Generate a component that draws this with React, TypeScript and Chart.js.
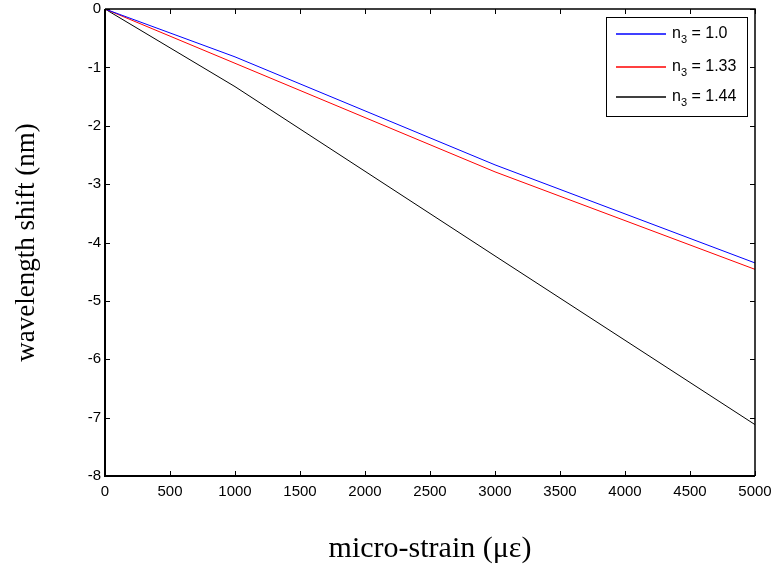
import React, { useEffect, useRef } from "react";
import { Chart, registerables } from "chart.js";

Chart.register(...registerables);

const strain = [0, 1000, 3000, 5000];
const shiftN100 = [0, -0.82, -2.67, -4.35];
const shiftN133 = [0, -0.93, -2.79, -4.46];
const shiftN144 = [0, -1.33, -4.23, -7.12];
const seriesLabels = ["1.0", "1.33", "1.44"];
const seriesColors = ["#0000ff", "#ff0000", "#000000"];
const xTicks = [0, 500, 1000, 1500, 2000, 2500, 3000, 3500, 4000, 4500, 5000];
const yTicks = [0, -1, -2, -3, -4, -5, -6, -7, -8];

const SANS = "'Liberation Sans', Arial, Helvetica, sans-serif";
const SERIF = "'Liberation Serif', 'Times New Roman', serif";

const framePlugin = {
  id: "matlabFrame",
  afterDraw(chart: any) {
    const ctx = chart.ctx as CanvasRenderingContext2D;
    const a = chart.chartArea;
    const xs = chart.scales.x;
    const ys = chart.scales.y;
    ctx.save();
    ctx.strokeStyle = "#000";
    ctx.lineWidth = 1;
    const tl = 5;
    ctx.beginPath();
    xTicks.forEach((v) => {
      const px = Math.round(xs.getPixelForValue(v)) + 0.5;
      ctx.moveTo(px, a.bottom);
      ctx.lineTo(px, a.bottom - tl);
      ctx.moveTo(px, a.top);
      ctx.lineTo(px, a.top + tl);
    });
    yTicks.forEach((v) => {
      const py = Math.round(ys.getPixelForValue(v)) + 0.5;
      ctx.moveTo(a.left, py);
      ctx.lineTo(a.left + tl, py);
      ctx.moveTo(a.right, py);
      ctx.lineTo(a.right - tl, py);
    });
    ctx.stroke();
    ctx.lineWidth = 1.5;
    ctx.beginPath();
    ctx.moveTo(a.left, a.top);
    ctx.lineTo(a.right, a.top);
    ctx.lineTo(a.right, a.bottom);
    ctx.stroke();
    ctx.lineWidth = 2;
    ctx.beginPath();
    ctx.moveTo(a.left, a.top);
    ctx.lineTo(a.left, a.bottom);
    ctx.lineTo(a.right, a.bottom);
    ctx.stroke();

    // legend
    const bw = 141;
    const bh = 99;
    const bx = Math.round(a.right - 8 - bw);
    const by = Math.round(a.top + 8);
    ctx.fillStyle = "#fff";
    ctx.fillRect(bx, by, bw, bh);
    ctx.strokeStyle = "#000";
    ctx.lineWidth = 1;
    ctx.strokeRect(bx + 0.5, by + 0.5, bw, bh);
    const rowY = [17, 50, 80];
    seriesLabels.forEach((lab, i) => {
      const y = by + rowY[i];
      ctx.strokeStyle = seriesColors[i];
      ctx.lineWidth = 1.5;
      ctx.beginPath();
      ctx.moveTo(bx + 10, y);
      ctx.lineTo(bx + 60, y);
      ctx.stroke();
      ctx.fillStyle = "#000";
      ctx.textBaseline = "alphabetic";
      ctx.textAlign = "left";
      ctx.font = `16px ${SANS}`;
      let tx = bx + 66;
      const base = y + 4;
      ctx.fillText("n", tx, base);
      tx += ctx.measureText("n").width;
      ctx.font = `11px ${SANS}`;
      ctx.fillText("3", tx, base + 5);
      tx += ctx.measureText("3").width;
      ctx.font = `16px ${SANS}`;
      ctx.fillText(" = " + lab, tx, base);
    });
    ctx.restore();
  },
};

export default function App() {
  const ref = useRef<HTMLCanvasElement | null>(null);
  useEffect(() => {
    document.body.style.margin = "0";
    const canvas = ref.current;
    if (!canvas) return;
    const mk = (vals: number[]) => strain.map((x, i) => ({ x, y: vals[i] }));
    const chart = new Chart(canvas, {
      type: "line",
      data: {
        datasets: [
          { label: "n3 = " + seriesLabels[0], data: mk(shiftN100), borderColor: seriesColors[0] },
          { label: "n3 = " + seriesLabels[1], data: mk(shiftN133), borderColor: seriesColors[1] },
          { label: "n3 = " + seriesLabels[2], data: mk(shiftN144), borderColor: seriesColors[2] },
        ].map((d) => ({ ...d, borderWidth: 1, pointRadius: 0, tension: 0, fill: false })),
      },
      options: {
        responsive: false,
        animation: false,
        layout: { padding: { top: 9, right: 17, left: 0, bottom: 0 } },
        plugins: { legend: { display: false }, tooltip: { enabled: false } },
        scales: {
          x: {
            type: "linear",
            min: 0,
            max: 5000,
            afterFit: (s: any) => {
              s.height = 95;
              s.paddingLeft = 0;
              s.paddingRight = 0;
            },
            afterBuildTicks: (s: any) => {
              s.ticks = xTicks.map((v) => ({ value: v }));
            },
            ticks: {
              color: "#000",
              font: { family: SANS, size: 15 },
              padding: 7,
              maxRotation: 0,
              autoSkip: false,
              callback: (v: any) => String(v),
            },
            grid: { display: false, drawTicks: false },
            border: { display: false },
            title: {
              display: true,
              text: "micro-strain (με)",
              color: "#000",
              font: { family: SERIF, size: 30 },
              padding: { top: 0, bottom: 4 },
            },
          },
          y: {
            type: "linear",
            min: -8,
            max: 0,
            afterFit: (s: any) => {
              s.width = 105;
              s.paddingTop = 0;
              s.paddingBottom = 0;
            },
            afterBuildTicks: (s: any) => {
              s.ticks = yTicks.slice().reverse().map((v) => ({ value: v }));
            },
            ticks: {
              color: "#000",
              font: { family: SANS, size: 15 },
              padding: 4,
              autoSkip: false,
              callback: (v: any) => String(v),
            },
            grid: { display: false, drawTicks: false },
            border: { display: false },
            title: {
              display: true,
              text: "wavelength shift (nm)",
              color: "#000",
              font: { family: SERIF, size: 27 },
              padding: { top: 11, bottom: 0 },
            },
          },
        },
      },
      plugins: [framePlugin],
    } as any);
    return () => chart.destroy();
  }, []);
  return <canvas ref={ref} width={772} height={571} style={{ display: "block" }} />;
}
